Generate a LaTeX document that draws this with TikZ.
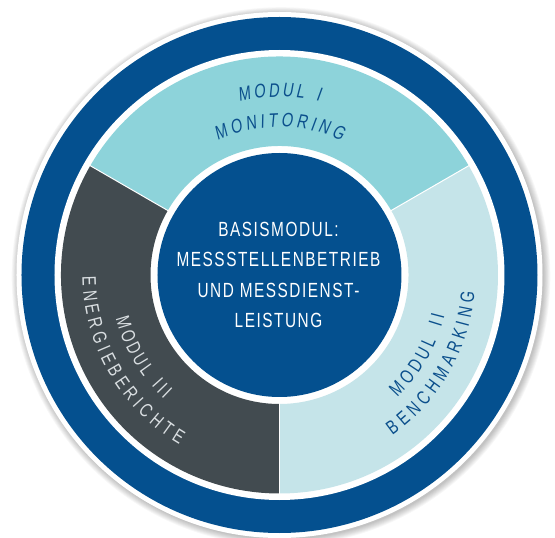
\documentclass[tikz,border=0pt]{standalone}
\usepackage{fontspec}
\newfontfamily\arcfam{Liberation Sans}
\newfontfamily\centerfam[FakeStretch=0.75,LetterSpace=7.5]{Liberation Sans}
\newcommand\arcF{\arcfam\fontsize{19.5pt}{22pt}\selectfont}
\newcommand\centerF{\centerfam\fontsize{20.5pt}{30.3pt}\selectfont}
\newcommand\arcglyph[1]{\if*#1\else#1\fi}
\definecolor{mainblue}{HTML}{04508F}
\definecolor{segteal}{HTML}{8DD3DA}
\definecolor{seglight}{HTML}{C5E4E9}
\definecolor{seggray}{HTML}{424B50}
\definecolor{txtblue}{HTML}{0B4F8C}
\definecolor{txtgray}{HTML}{D9DEE1}
\newdimen\arcW
% natural letter widths, measured once in the preamble
\foreach \ch in {A,B,C,D,E,G,H,I,K,L,M,N,O,R,T,U}{%
  \settowidth{\arcW}{\arcF\ch}%
  \expandafter\xdef\csname arcwd\ch\endcsname{\the\arcW}}
\expandafter\xdef\csname arcwd*\endcsname{8pt}
% #1 baseline radius (pt), #2 centre angle, #3 1 = clockwise/tops outward, -1 = counter-clockwise/tops inward,
% #4 node style, #5 letter spacing (pt), #6 list of letters (* = word space)
\newcommand{\ArcText}[6]{%
  \gdef\arctot{0}%
  \foreach \ch in {#6}{%
    \edef\arcwv{\csname arcwd\ch\endcsname}%
    \pgfmathsetmacro{\arctmp}{\arctot + 0.75*\arcwv + #5}%
    \xdef\arctot{\arctmp}}%
  \pgfmathsetmacro{\arctmp}{\arctot - #5}\xdef\arctot{\arctmp}%
  \gdef\arcpos{0}%
  \foreach \ch in {#6}{%
    \edef\arcwv{\csname arcwd\ch\endcsname}%
    \pgfmathsetmacro{\arcoff}{\arcpos + 0.375*\arcwv - 0.5*\arctot}%
    \pgfmathsetmacro{\arcang}{#2 - (#3)*(\arcoff/#1)*57.29578}%
    \pgfmathsetmacro{\arcrot}{\arcang - (#3)*90}%
    \node[anchor=base, inner sep=0pt, rotate=\arcrot, #4] at (\arcang:#1pt) {\arcglyph{\ch}};%
    \pgfmathsetmacro{\arcnp}{\arcpos + 0.75*\arcwv + #5}%
    \xdef\arcpos{\arcnp}%
  }%
}
\tikzset{
  centertext/.style={align=center, text=white, font=\centerF, inner sep=0pt},
  divider/.style={white, line width=1pt},
  toplabel/.style={font=\arcF, text=txtblue, xscale=0.75, xslant=0.18},
  rightlabel/.style={font=\arcF, text=txtblue, xscale=0.75},
  leftlabel/.style={font=\arcF, text=txtgray, xscale=0.75}
}
\begin{document}
\begin{tikzpicture}
\useasboundingbox (-279.5pt,-263pt) rectangle (275.5pt,275pt);
\fill[white] (-279.5pt,-263pt) rectangle (275.5pt,275pt);
% soft shadow
\foreach \k in {0,...,7}
  \fill[black,opacity=0.03] (1.5pt,-1.5pt) circle[radius=263pt+\k*0.9pt];
\fill[white] (0,0) circle[radius=263pt];
\fill[mainblue] (0,0) circle[radius=258pt];
\fill[white] (0,0) circle[radius=225pt];
% segments
\fill[segteal] (30:218.5pt) arc[start angle=30,end angle=150,radius=218.5pt]
  -- (150:129pt) arc[start angle=150,end angle=30,radius=129pt] -- cycle;
\fill[seggray] (150:218.5pt) arc[start angle=150,end angle=270,radius=218.5pt]
  -- (270:129pt) arc[start angle=270,end angle=150,radius=129pt] -- cycle;
\fill[seglight] (270:218.5pt) arc[start angle=270,end angle=390,radius=218.5pt]
  -- (30:129pt) arc[start angle=390,end angle=270,radius=129pt] -- cycle;
\foreach \a in {30,150,270}
  \draw[divider] (\a:128pt) -- (\a:219pt);
% centre
\fill[mainblue] (0,0) circle[radius=122pt];
\node[centertext] (basis) at (-1pt,0) {BASISMODUL:\\MESSSTELLENBETRIEB\\UND MESSDIENST-\\LEISTUNG};
% curved labels
\ArcText{178}{90}{1}{toplabel}{3.0}{M,O,D,U,L,*,I}
\ArcText{148}{90}{1}{toplabel}{3.6}{M,O,N,I,T,O,R,I,N,G}
\ArcText{170}{-30}{-1}{rightlabel}{4.1}{M,O,D,U,L,*,I,I}
\ArcText{196}{-30}{-1}{rightlabel}{4.6}{B,E,N,C,H,M,A,R,K,I,N,G}
\ArcText{169.5}{211}{-1}{leftlabel}{3.0}{M,O,D,U,L,*,I,I,I}
\ArcText{197}{210}{-1}{leftlabel}{4.5}{E,N,E,R,G,I,E,B,E,R,I,C,H,T,E}
\end{tikzpicture}
\end{document}
